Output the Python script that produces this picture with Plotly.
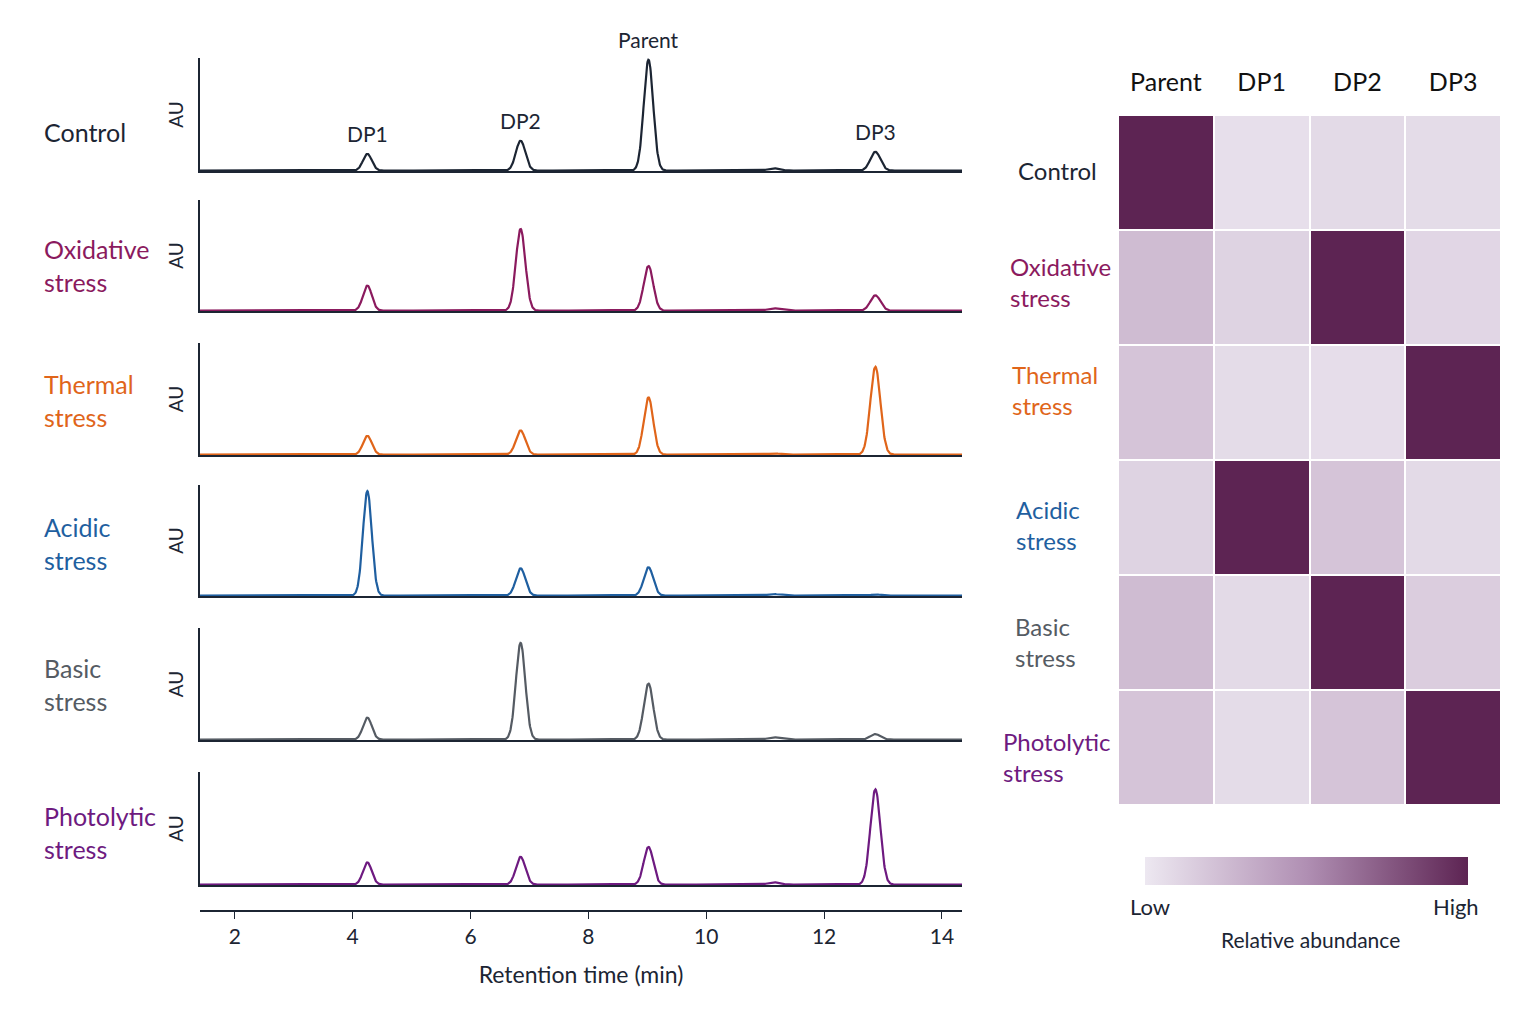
import numpy as np
import plotly.graph_objects as go

conditions = ["Control", "Oxidative stress", "Thermal stress", "Acidic stress", "Basic stress", "Photolytic stress"]
label_html = ["Control", "Oxidative<br>stress", "Thermal<br>stress", "Acidic<br>stress", "Basic<br>stress", "Photolytic<br>stress"]
colors = ["#1c2533", "#8b1a5e", "#e0651a", "#1f5fa0", "#555b63", "#6e1a80"]
peak_names = ["DP1", "DP2", "Parent", "DP3", "minor"]
peak_rt = [4.25, 6.85, 9.02, 12.87, 11.15]
peak_sigma = [0.075, 0.08, 0.08, 0.085, 0.1]
peak_heights = [
    [0.15, 0.27, 1.00, 0.17, 0.02],
    [0.23, 0.75, 0.41, 0.14, 0.02],
    [0.17, 0.22, 0.52, 0.80, 0.01],
    [0.96, 0.25, 0.26, 0.01, 0.015],
    [0.20, 0.88, 0.51, 0.05, 0.02],
    [0.20, 0.25, 0.34, 0.86, 0.02],
]
heat_cols = ["Parent", "DP1", "DP2", "DP3"]
heat_vals = [
    [1.00, 0.05, 0.08, 0.07],
    [0.25, 0.12, 1.00, 0.10],
    [0.20, 0.07, 0.06, 1.00],
    [0.12, 1.00, 0.20, 0.08],
    [0.25, 0.08, 1.00, 0.15],
    [0.20, 0.07, 0.20, 1.00],
]

W, H = 1536, 1024
OFF = 8
def px(x): return (x - OFF) / W
def py(y): return 1 - (y - OFF) / H

FONT = "Lato"
rt = np.linspace(1.4, 14.35, 2000)
fig = go.Figure()
panel_px = [(58, 171), (200, 311), (343, 455), (485, 596), (628, 740), (772, 885)]
label_y = [132, 265, 400, 543, 684, 832]
layout = {}
ann = []
for i, (top, bot) in enumerate(panel_px):
    sig = np.zeros_like(rt)
    for r, s, h in zip(peak_rt, peak_sigma, peak_heights[i]):
        sig += h * np.exp(-0.5 * ((rt - r) / s) ** 2)
    sig += 0.004
    n = "" if i == 0 else str(i + 1)
    fig.add_trace(go.Scatter(x=rt, y=sig, mode="lines", line=dict(color=colors[i], width=2.2),
                             xaxis="x" + n, yaxis="y" + n, showlegend=False, hoverinfo="skip"))
    layout["xaxis" + n] = dict(domain=[px(200), px(962)], range=[1.41, 14.34], anchor="y" + n,
                               showline=True, linecolor="#1c2533", linewidth=1.5, showticklabels=False,
                               ticks="", showgrid=False, zeroline=False)
    layout["yaxis" + n] = dict(domain=[py(bot), py(top)], range=[0, 1.02],
                               anchor="x" + n, showline=True, linecolor="#1c2533", linewidth=1.5,
                               showticklabels=False, ticks="", showgrid=False, zeroline=False,
                               title=dict(text="AU", font=dict(size=19, color="#1c2533"), standoff=10))
    ann.append(dict(x=px(42), y=py(label_y[i]), xref="paper", yref="paper", text=label_html[i],
                    showarrow=False, xanchor="left", yanchor="middle", align="left",
                    font=dict(size=25, color=colors[i])))

for name, r, h in zip(peak_names[:4], peak_rt[:4], peak_heights[0][:4]):
    ann.append(dict(x=r, y=h, xref="x", yref="y", text=name, showarrow=False, yanchor="bottom",
                    yshift=6, font=dict(size=21, color="#1c2533")))

fig.add_trace(go.Scatter(x=[1.41, 14.34], y=[0, 0], mode="markers", marker=dict(opacity=0),
                         xaxis="x7", yaxis="y7", showlegend=False, hoverinfo="skip"))
layout["xaxis7"] = dict(domain=[px(200), px(962)], range=[1.41, 14.34], anchor="y7", showline=True,
                        linecolor="#1c2533", linewidth=1.5, ticks="outside", ticklen=7, tickcolor="#1c2533",
                        tickvals=[2, 4, 6, 8, 10, 12, 14], tickfont=dict(size=21, color="#1c2533"),
                        showgrid=False, zeroline=False,
                        title=dict(text="Retention time (min)", font=dict(size=23, color="#1c2533"), standoff=20))
layout["yaxis7"] = dict(domain=[py(910), py(906)], visible=False, range=[0, 1])

fig.add_trace(go.Heatmap(z=heat_vals, x=heat_cols, y=conditions, xaxis="x8", yaxis="y8",
                         zmin=0, zmax=1, xgap=2, ygap=2,
                         colorscale=[[0, "#ede8f1"], [0.5, "#b08fb3"], [1, "#5d2453"]],
                         colorbar=dict(orientation="h", x=px(1306), xanchor="center", y=py(871), yanchor="middle",
                                       len=(1468 - 1145 + 20) / W, lenmode="fraction", thickness=28, outlinewidth=0,
                                       showticklabels=False, ticks=""),
                         hoverinfo="skip"))
layout["xaxis8"] = dict(domain=[px(1118), px(1501)], anchor="y8", side="top", showgrid=False, zeroline=False,
                        ticks="", tickfont=dict(size=25, color="#111"), ticklabelstandoff=18)
layout["yaxis8"] = dict(domain=[py(805), py(115)], anchor="x8", autorange="reversed", showticklabels=False,
                        showgrid=False, zeroline=False, ticks="")
row_px = [170, 282, 390, 525, 642, 757]
row_x = [1016, 1008, 1010, 1014, 1013, 1001]
for i in range(6):
    ann.append(dict(x=px(row_x[i]), y=py(row_px[i]), xref="paper", yref="paper", text=label_html[i],
                    showarrow=False, xanchor="left", yanchor="middle", align="left",
                    font=dict(size=24, color=colors[i])))
ann.append(dict(x=px(1128), y=py(906), xref="paper", yref="paper", text="Low", showarrow=False,
                xanchor="left", yanchor="middle", font=dict(size=22, color="#1c2533")))
ann.append(dict(x=px(1481), y=py(906), xref="paper", yref="paper", text="High", showarrow=False,
                xanchor="right", yanchor="middle", font=dict(size=22, color="#1c2533")))
ann.append(dict(x=px(1310), y=py(939), xref="paper", yref="paper", text="Relative abundance", showarrow=False,
                xanchor="center", yanchor="middle", font=dict(size=21, color="#1c2533")))

fig.update_layout(width=W, height=H, margin=dict(l=0, r=0, t=0, b=0), plot_bgcolor="white",
                  paper_bgcolor="white", font=dict(family=FONT), annotations=ann, **layout)
fig.write_html("out.html")
